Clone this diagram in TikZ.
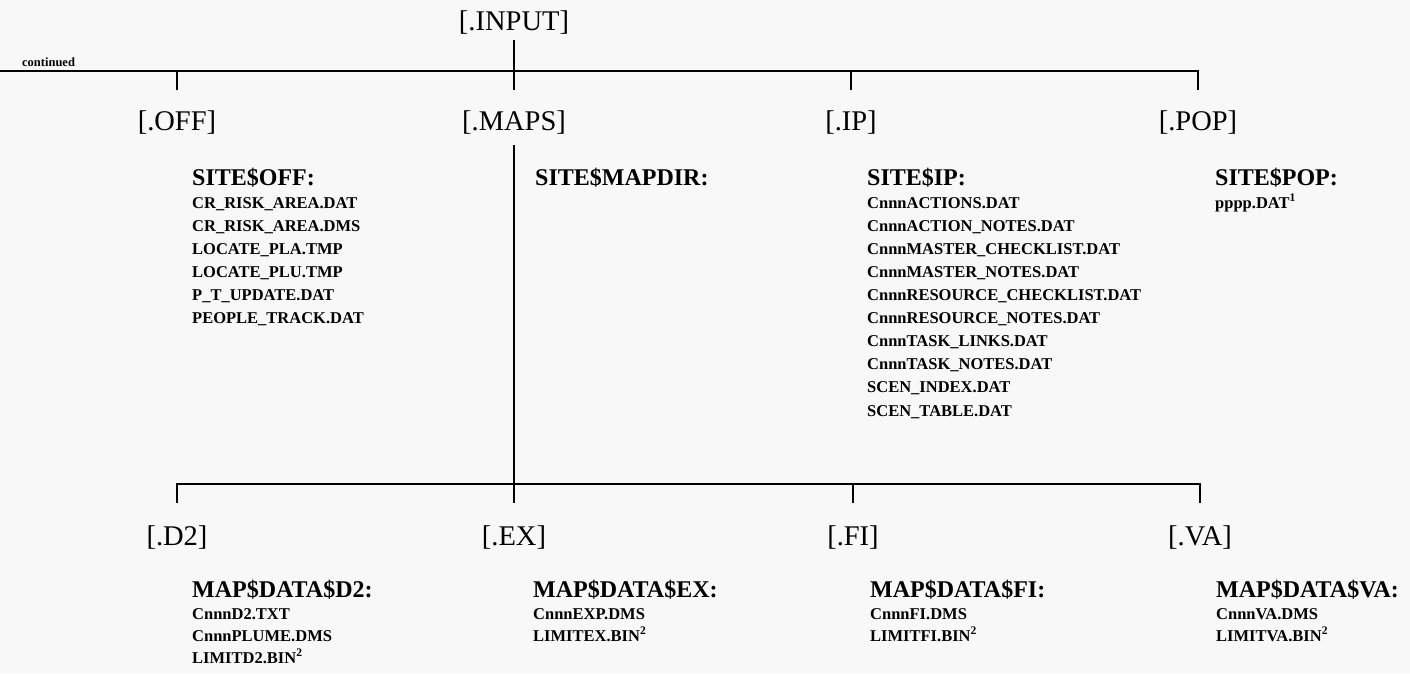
\documentclass[tikz,border=0pt]{standalone}
\usepackage{fontspec}
\setmainfont{Liberation Serif}
\definecolor{paper}{HTML}{F8F8F8}

\begin{document}
\begin{tikzpicture}[x=1pt,y=-1pt,
dirnode/.style={font=\fontsize{28.5}{34}\selectfont, inner sep=0pt, text height=20pt, text depth=6pt, anchor=base},
headnode/.style={font=\fontsize{24}{28}\selectfont\bfseries, inner sep=0pt, anchor=base west},
filenode/.style={font=\fontsize{16.5}{20}\selectfont\bfseries, inner sep=0pt, anchor=base west},
wire/.style={line width=2.6pt},
]
\fill[paper] (0,0) rectangle (1410,673);
\useasboundingbox (0,0) rectangle (1410,673);

%Nodes
\node[dirnode](INPUT) at (514,30){[.INPUT]};
\node[font=\fontsize{12.5}{15}\selectfont\bfseries, inner sep=0pt, anchor=base west](continued) at (22,66){continued};
\node[dirnode](OFF) at (177,130){[.OFF]};
\node[dirnode](MAPS) at (514,130){[.MAPS]};
\node[dirnode](IP) at (851,130){[.IP]};
\node[dirnode](POP) at (1198,130){[.POP]};
\node[dirnode](D2) at (177,545){[.D2]};
\node[dirnode](EX) at (514,545){[.EX]};
\node[dirnode](FI) at (853,545){[.FI]};
\node[dirnode](VA) at (1200,545){[.VA]};

%Directory contents
\node[headnode](SITE OFF) at (192,185){SITE\$OFF:};
\foreach \f [count=\i] in {CR\_RISK\_AREA.DAT, CR\_RISK\_AREA.DMS, LOCATE\_PLA.TMP, LOCATE\_PLU.TMP, P\_T\_UPDATE.DAT, PEOPLE\_TRACK.DAT}
  \node[filenode](off file \i) at (192,{185+23*\i}){\f};
\node[headnode](SITE MAPDIR) at (535,185){SITE\$MAPDIR:};
\node[headnode](SITE IP) at (867,185){SITE\$IP:};
\foreach \f [count=\i] in {CnnnACTIONS.DAT, CnnnACTION\_NOTES.DAT, CnnnMASTER\_CHECKLIST.DAT, CnnnMASTER\_NOTES.DAT, CnnnRESOURCE\_CHECKLIST.DAT, CnnnRESOURCE\_NOTES.DAT, CnnnTASK\_LINKS.DAT, CnnnTASK\_NOTES.DAT, SCEN\_INDEX.DAT, SCEN\_TABLE.DAT}
  \node[filenode](ip file \i) at (867,{185+23.1*\i}){\f};
\node[headnode](SITE POP) at (1215,185){SITE\$POP:};
\node[filenode](pop file 1) at (1215,208){pppp.DAT\textsuperscript{1}};

\node[headnode](MAP D2) at (192,597){MAP\$DATA\$D2:};
\foreach \f [count=\i] in {CnnnD2.TXT, CnnnPLUME.DMS, LIMITD2.BIN\textsuperscript{2}}
  \node[filenode](d2 file \i) at (192,{597+22*\i}){\f};
\node[headnode](MAP EX) at (533,597){MAP\$DATA\$EX:};
\foreach \f [count=\i] in {CnnnEXP.DMS, LIMITEX.BIN\textsuperscript{2}}
  \node[filenode](ex file \i) at (533,{597+22*\i}){\f};
\node[headnode](MAP FI) at (870,597){MAP\$DATA\$FI:};
\foreach \f [count=\i] in {CnnnFI.DMS, LIMITFI.BIN\textsuperscript{2}}
  \node[filenode](fi file \i) at (870,{597+22*\i}){\f};
\node[headnode](MAP VA) at (1216,597){MAP\$DATA\$VA:};
\foreach \f [count=\i] in {CnnnVA.DMS, LIMITVA.BIN\textsuperscript{2}}
  \node[filenode](va file \i) at (1216,{597+22*\i}){\f};

%Lines
\coordinate (topbar) at (0,71);
\coordinate (lowbar) at (514,484);
\draw[wire,shorten <=4pt,shorten >=20pt] (INPUT.south) -- (MAPS.north);
\draw[wire,shorten >=20pt] (topbar) -| (POP.north);
\draw[wire,shorten >=20pt] (topbar -| OFF) -- (OFF.north);
\draw[wire,shorten >=20pt] (topbar -| IP) -- (IP.north);
\draw[wire,shorten <=9pt,shorten >=22pt] (MAPS.south) -- (EX.north);
\draw[wire,shorten <=22pt,shorten >=22pt] (D2.north) |- (lowbar) -| (VA.north);
\draw[wire,shorten >=22pt] (lowbar -| FI) -- (FI.north);
\end{tikzpicture}
\end{document}
